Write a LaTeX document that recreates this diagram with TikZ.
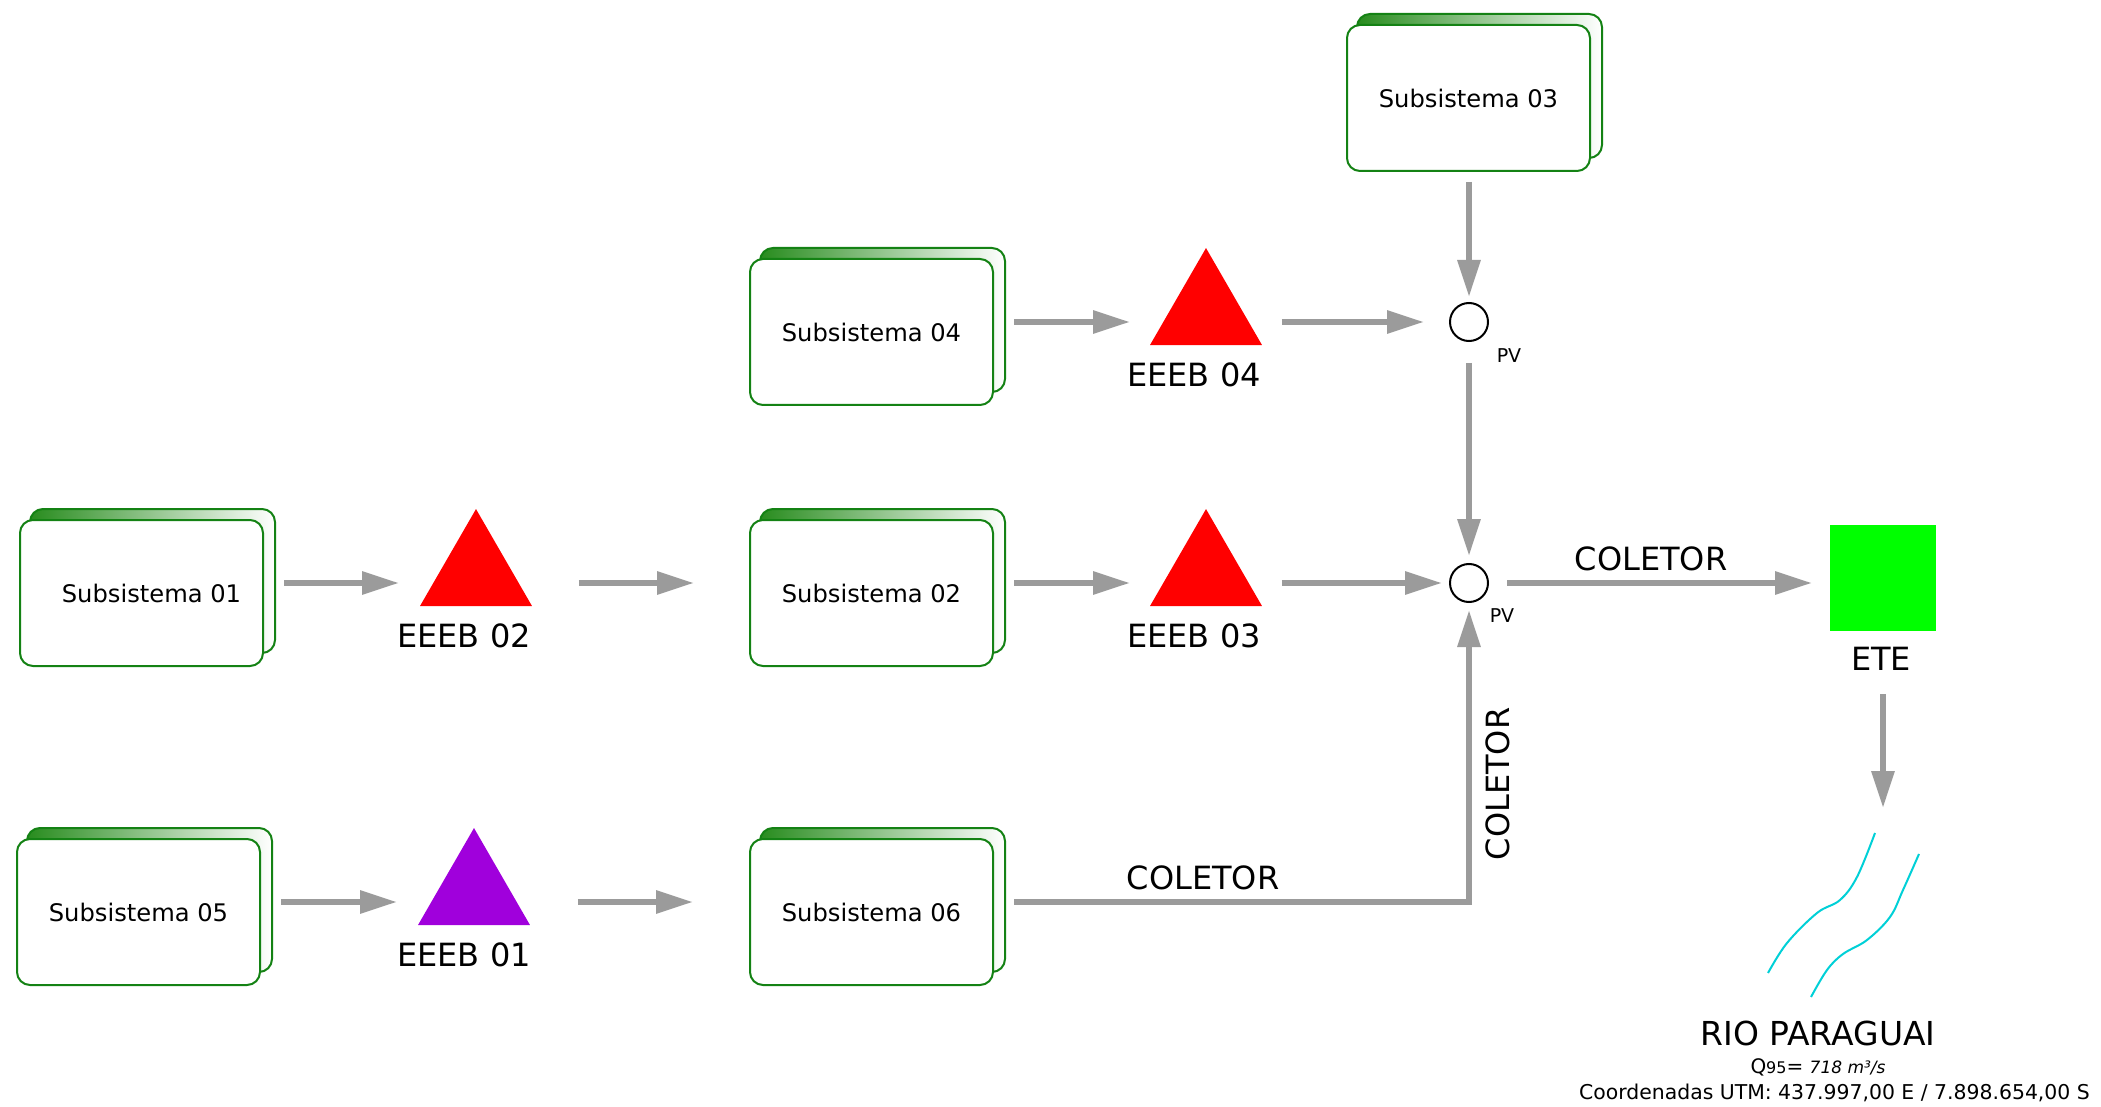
\documentclass[tikz,border=0pt]{standalone}
\usepackage{fontspec}
\setmainfont{DejaVu Sans}
\usetikzlibrary{arrows.meta,shapes.geometric,backgrounds,calc}
\definecolor{boxgreen}{RGB}{20,130,20}
\definecolor{shgreen}{RGB}{40,140,30}
\definecolor{arrgray}{RGB}{155,155,155}
\definecolor{pumpred}{RGB}{255,0,0}
\definecolor{pumppurple}{RGB}{160,0,220}
\definecolor{etegreen}{RGB}{0,255,0}
\definecolor{rivercyan}{RGB}{0,208,215}
\tikzset{
  subbox/.style={draw=boxgreen, line width=1pt, fill=white, rounded corners=6.5pt,
    minimum width=121.5pt, minimum height=73pt, inner sep=0pt,
    font=\fontsize{12.1}{14}\selectfont},
  backbox/.style={draw=boxgreen, line width=1pt, rounded corners=6.5pt,
    left color=shgreen, right color=white},
  pump/.style={regular polygon, regular polygon sides=3, minimum size=64.65pt,
    inner sep=0pt, outer sep=0pt, fill=pumpred},
  pvnode/.style={circle, draw=black, line width=1pt, minimum size=19pt,
    inner sep=0pt, outer sep=0pt},
  arr/.style={draw=arrgray, line width=3pt, -{Triangle[length=18.5pt,width=11pt]}},
  lbl/.style={font=\fontsize{16}{19}\selectfont, inner sep=0pt},
  pvlbl/.style={font=\fontsize{9.5}{11}\selectfont, inner sep=0pt},
  river/.style={draw=rivercyan, line width=1pt}
}
\begin{document}
\begin{tikzpicture}[x=0.5pt, y=-0.5pt]
\useasboundingbox (0,0) rectangle (2101,1107);
\begin{scope}[on background layer]
  \fill[white] (0,0) rectangle (2101,1107);
\end{scope}

% subsystem boxes
\node[subbox] (s3) at (1468.5,98) {Subsistema 03};
\node[subbox] (s4) at (871.5,332) {Subsistema 04};
\node[subbox] (s2) at (871.5,593) {Subsistema 02};
\node[subbox] (s1) at (141.5,593) {\hspace*{10pt}Subsistema 01};
\node[subbox] (s5) at (138.5,912) {Subsistema 05};
\node[subbox] (s6) at (871.5,912) {Subsistema 06};

\begin{scope}[on background layer]
  \foreach \n in {s1,s2,s3,s4,s5,s6}{
    \draw[backbox] ($(\n.south west)+(11,-14)$) rectangle ($(\n.north east)+(11,-10)$);
  }
\end{scope}

% pumping stations
\node[pump] (e4) at (1206,312.7) {};
\node[pump] (e3) at (1206,573.7) {};
\node[pump] (e2) at (476,573.7) {};
\node[pump, fill=pumppurple] (e1) at (474,892.7) {};

\node[lbl] (l4) at ($(e4.corner 2)!0.5!(e4.corner 3)+(-12,30)$) {EEEB 04};
\node[lbl] (l3) at ($(e3.corner 2)!0.5!(e3.corner 3)+(-12,30)$) {EEEB 03};
\node[lbl] (l2) at ($(e2.corner 2)!0.5!(e2.corner 3)+(-12,30)$) {EEEB 02};
\node[lbl] (l1) at ($(e1.corner 2)!0.5!(e1.corner 3)+(-10,30)$) {EEEB 01};

% PV
\node[pvnode] (pv1) at (1469,322) {};
\node[pvnode] (pv2) at (1469,583) {};
\node[pvlbl] (pl1) at ($(pv1)+(40,34)$) {PV};
\node[pvlbl] (pl2) at ($(pv2)+(33,33)$) {PV};

% ETE
\node[fill=etegreen, minimum size=53pt, inner sep=0pt, outer sep=0pt] (ete) at (1883,578) {};
\node[lbl] (etel) at ($(ete.south)+(-2,28)$) {ETE};

\coordinate (rv) at (1883,808);
\coordinate (r3) at (0,902);

% connectors
\draw[arr, shorten <=5pt, shorten >=3pt] (s3.south -| pv1) -- (pv1.north);
\draw[arr, shorten <=10pt, shorten >=10pt] (s4.east |- pv1) -- (e4.corner 2 |- pv1);
\draw[arr, shorten <=10pt, shorten >=13pt] (e4.corner 3 |- pv1) -- (pv1.west);
\draw[arr, shorten <=11pt, shorten >=4pt] (pv1.south) -- (pv2.north);
\draw[arr, shorten <=10pt, shorten >=10.5pt] (s1.east |- pv2) -- (e2.corner 2 |- pv2);
\draw[arr, shorten <=23.5pt, shorten >=27.5pt] (e2.corner 3 |- pv2) -- (s2.west |- pv2);
\draw[arr, shorten <=10pt, shorten >=10pt] (s2.east |- pv2) -- (e3.corner 2 |- pv2);
\draw[arr, shorten <=10pt, shorten >=4pt] (e3.corner 3 |- pv2) -- (pv2.west);
\draw[arr, shorten <=9.5pt, shorten >=9pt] (pv2.east) -- (ete.west |- pv2);
\draw[arr, shorten <=10pt, shorten >=10.5pt] (s5.east |- r3) -- (e1.corner 2 |- r3);
\draw[arr, shorten <=24pt, shorten >=28pt] (e1.corner 3 |- r3) -- (s6.west |- r3);
\draw[arr, shorten <=10pt, shorten >=4pt] (s6.east |- r3) -| (pv2.south);
\draw[arr, shorten <=31.5pt] (ete.south) -- (rv);

\node[lbl] (c1) at (1651,559) {COLETOR};
\node[lbl] (c2) at (1203,878) {COLETOR};
\node[lbl, rotate=90] (c3) at (1498,784) {COLETOR};

% river
\draw[river] plot[smooth, tension=0.6] coordinates {(1768,973) (1787,943) (1817,913) (1840,900) (1857,877) (1875,833)};
\draw[river] plot[smooth, tension=0.6] coordinates {(1811,997) (1827,970) (1843,954) (1867,940) (1890,917) (1903,890) (1919,854)};

\node[inner sep=0pt, font=\fontsize{16.5}{19}\selectfont] (rio) at (1818,1033) {RIO PARAGUAI};
\node[inner sep=0pt] (q95) at (1818,1067) {\fontsize{10}{12}\selectfont Q\fontsize{8}{10}\selectfont 95\fontsize{10}{12}\selectfont= \itshape\fontsize{8.5}{10}\selectfont 718 m³/s};
\node[inner sep=0pt, font=\fontsize{10.2}{12}\selectfont] (utm) at (1834.5,1093) {Coordenadas UTM: 437.997,00 E / 7.898.654,00 S};
\end{tikzpicture}
\end{document}
